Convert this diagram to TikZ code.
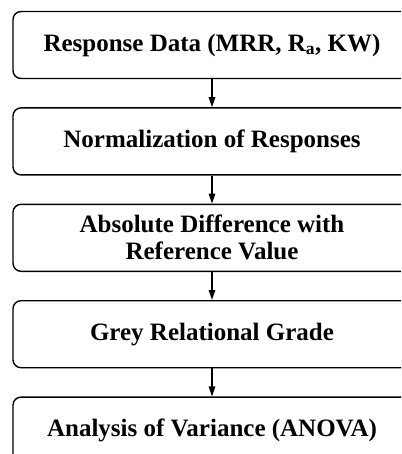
\documentclass[tikz,border=0pt]{standalone}
\usepackage{fontspec}
\setmainfont{Liberation Serif}
\usetikzlibrary{arrows.meta,positioning}

\begin{document}
\begin{tikzpicture}[>={Triangle[length=10pt,width=6.5pt]},x=1pt,y=1pt,
  stage/.style={draw,line width=1.4pt,rounded corners=8pt,minimum width=398pt,
    minimum height=67pt,align=center,inner sep=0pt,
    font=\fontsize{25}{27}\selectfont\bfseries},
  flow/.style={->,line width=1.4pt},
  node distance=28pt]
  \clip (0,0) rectangle (401,-454);
  \node[stage] (resp) at (212,-45) {Response Data (MRR, R\textsubscript{a}, KW)};
  \node[stage,below=of resp] (norm) {Normalization of Responses};
  \node[stage,below=of norm] (diff) {Absolute Difference with\\Reference Value};
  \node[stage,below=of diff] (grg) {Grey Relational Grade};
  \node[stage,below=of grg] (anova) {Analysis of Variance (ANOVA)};
  \draw[flow] (resp) -- (norm);
  \draw[flow] (norm) -- (diff);
  \draw[flow] (diff) -- (grg);
  \draw[flow] (grg) -- (anova);
\end{tikzpicture}
\end{document}
